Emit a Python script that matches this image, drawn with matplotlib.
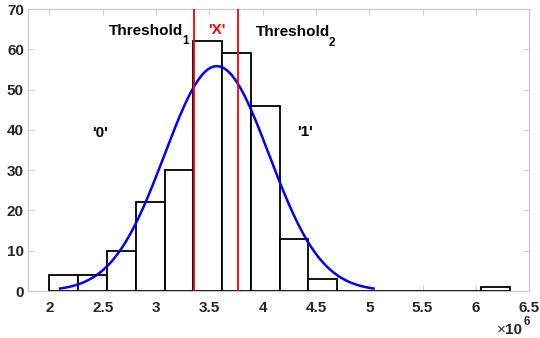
import numpy as np
import matplotlib
matplotlib.use("Agg")
import matplotlib.pyplot as plt

# data (x in units of 1e6)
bin_start = 2.0
bin_width = 0.27
counts = [4, 4, 10, 22, 30, 62, 59, 46, 13, 3, 0, 0, 0, 0, 0, 1]
fit_mu = 3.57
fit_sigma = 0.49
thresholds = [3.352, 3.772]
xticks = [2, 2.5, 3, 3.5, 4, 4.5, 5, 5.5, 6, 6.5]
yticks = [0, 10, 20, 30, 40, 50, 60, 70]

plt.rcParams['font.family'] = ['Liberation Sans', 'DejaVu Sans']

fig = plt.figure(figsize=(5.4, 3.38), dpi=100)
ax = fig.add_axes([0.052, 0.139, 0.928, 0.834])

edges = bin_start + bin_width * np.arange(len(counts) + 1)
ax.bar(edges[:-1], counts, width=bin_width, align='edge', facecolor='white',
       edgecolor='black', linewidth=1.3, zorder=2)

n_total = sum(counts)
xs = np.linspace(fit_mu - 3 * fit_sigma, fit_mu + 3 * fit_sigma, 200)
ys = n_total * bin_width / (fit_sigma * np.sqrt(2 * np.pi)) * np.exp(-(xs - fit_mu) ** 2 / (2 * fit_sigma ** 2))
ax.plot(xs, ys, color='#0000ff', linewidth=1.8, zorder=3)

for t in thresholds:
    ax.axvline(t, color='#ff0000', linewidth=1.3, zorder=4)

fs = 11
ax.text(2.56, 64.5, 'Threshold', fontsize=fs, fontweight='bold', ha='left', va='center')
ax.text(3.245, 62.0, '1', fontsize=8.5, fontweight='bold', ha='left', va='center')
ax.text(3.57, 64.8, "'X'", fontsize=fs, fontweight='bold', color='#ff0000', ha='center', va='center')
ax.text(3.94, 64.2, 'Threshold', fontsize=fs, fontweight='bold', ha='left', va='center')
ax.text(4.622, 61.7, '2', fontsize=8.5, fontweight='bold', ha='left', va='center')
ax.text(2.47, 39.3, "'0'", fontsize=fs, fontweight='bold', ha='center', va='center')
ax.text(4.40, 39.5, "'1'", fontsize=fs, fontweight='bold', ha='center', va='center')

ax.set_xlim(1.8, 6.5)
ax.set_ylim(0, 70)
ax.set_xticks(xticks)
ax.set_xticklabels([f'{v:g}' for v in xticks])
ax.set_yticks(yticks)
for s in ax.spines.values():
    s.set_color('#c8c8c8')
    s.set_linewidth(0.8)
ax.tick_params(direction='in', length=4, width=0.6, color='#c8c8c8',
               labelcolor='#262626', labelsize=11, top=True, right=True)
for lab in ax.get_xticklabels() + ax.get_yticklabels():
    lab.set_fontweight('bold')
ax.tick_params(axis='x', pad=7)
ax.tick_params(axis='y', pad=3)

fig.text(0.920, 0.012, '\u00d7', fontsize=11, color='#262626', ha='left', va='baseline')
fig.text(0.936, 0.012, '10', fontsize=11, fontweight='bold', color='#262626', ha='left', va='baseline')
fig.text(0.970, 0.038, '6', fontsize=8.5, fontweight='bold', color='#262626', ha='left', va='baseline')

fig.savefig('out.png', dpi=100)
